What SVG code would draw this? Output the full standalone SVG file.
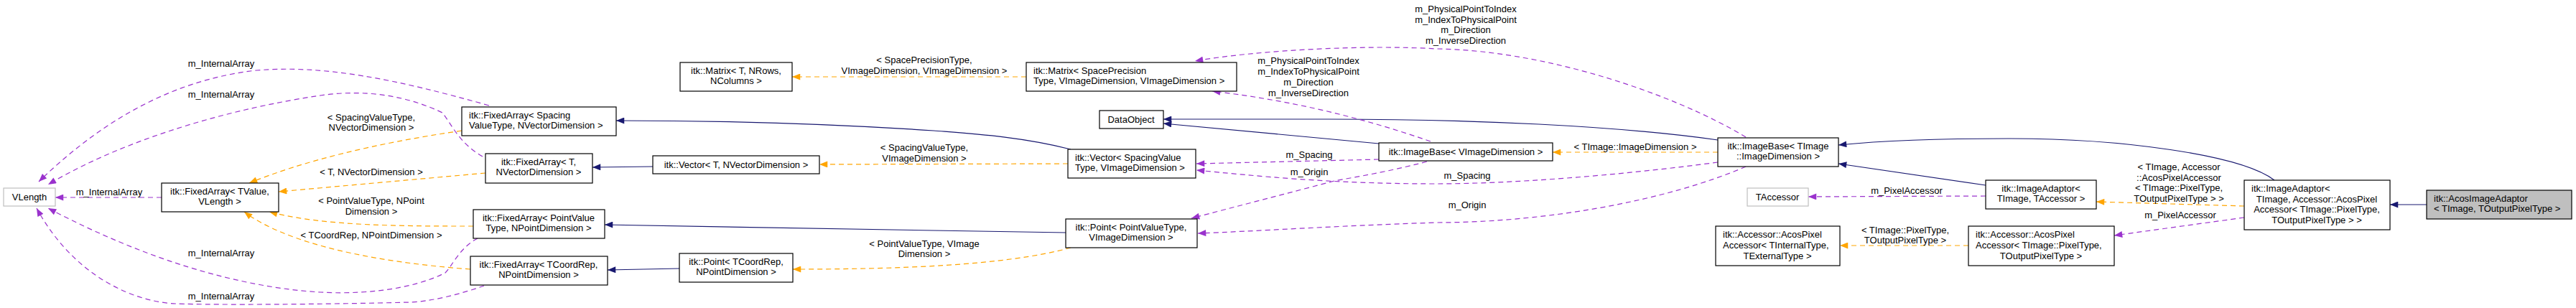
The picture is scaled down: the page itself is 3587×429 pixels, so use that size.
<svg xmlns="http://www.w3.org/2000/svg" width="3587" height="429" viewBox="0 0 3587 429">
<style>
.n rect{fill:#fff;stroke:#000;stroke-width:1.2}
.n.g rect{stroke:#bfbfbf}
.n.s rect{fill:#bfbfbf}
text{font-family:"Liberation Sans",Arial,sans-serif;font-size:13px;fill:#000}
.c{text-anchor:middle}
.inh{fill:none;stroke:#191970;stroke-width:1.2;marker-end:url(#an)}
.tpl{fill:none;stroke:#ffa500;stroke-width:1.2;stroke-dasharray:7,5;marker-end:url(#ao)}
.use{fill:none;stroke:#9a32cd;stroke-width:1.2;stroke-dasharray:7,5;marker-end:url(#ap)}
</style>
<defs>
<marker id="an" viewBox="0 0 10 8" refX="10" refY="4" markerWidth="12" markerHeight="9" orient="auto" markerUnits="userSpaceOnUse"><path d="M0,0L10,4L0,8z" fill="#191970"/></marker>
<marker id="ao" viewBox="0 0 10 8" refX="10" refY="4" markerWidth="12" markerHeight="9" orient="auto" markerUnits="userSpaceOnUse"><path d="M0,0L10,4L0,8z" fill="#ffa500"/></marker>
<marker id="ap" viewBox="0 0 10 8" refX="10" refY="4" markerWidth="12" markerHeight="9" orient="auto" markerUnits="userSpaceOnUse"><path d="M0,0L10,4L0,8z" fill="#9a32cd"/></marker>
</defs>
<rect width="3587" height="429" fill="#fff"/>
<g id="connectors">
<path class="inh" d="M3379,285L3328,285"/>
<path class="inh" d="M3167,251C3120,215 2950,193 2800,193C2700,193 2620,196 2560,202"/>
<path class="inh" d="M2765,258L2560,228"/>
<path class="inh" d="M2392,195C2250,175 2050,166 1850,166L1620,166"/>
<path class="inh" d="M1920,200L1620,172"/>
<path class="inh" d="M1491,208C1420,190 1350,186 1300,182C1150,172 1000,168 858,168"/>
<path class="inh" d="M909,232L825,233"/>
<path class="inh" d="M1484,324L1300,321C1100,318 950,314 842,313"/>
<path class="inh" d="M946,374L846,376"/>
<path class="tpl" d="M643,182C520,200 420,225 347,255"/>
<path class="tpl" d="M676,241L388,267"/>
<path class="tpl" d="M659,315C560,315 450,315 375,295"/>
<path class="tpl" d="M655,375C520,365 400,340 340,295"/>
<path class="tpl" d="M1429,107L1103,107"/>
<path class="tpl" d="M1487,228L1141,229"/>
<path class="tpl" d="M1491,345C1400,370 1250,375 1104,375"/>
<path class="tpl" d="M2392,212L2162,212"/>
<path class="tpl" d="M3125,287L2919,281"/>
<path class="tpl" d="M2741,342L2562,342"/>
<path class="use" d="M681,147C550,110 450,90 357,98C250,110 150,160 54,253"/>
<path class="use" d="M672,218C640,200 630,175 616,157C560,130 500,125 446,133C330,150 180,190 67,257"/>
<path class="use" d="M225,275L77,275"/>
<path class="use" d="M665,332C640,345 630,370 620,380C570,405 500,410 446,407C330,400 200,360 67,290"/>
<path class="use" d="M674,398C640,410 600,420 571,421C450,424 300,425 245,423C180,420 100,380 51,290"/>
<path class="use" d="M2431,191C2330,130 2150,70 2000,68C1900,62 1750,70 1664,85"/>
<path class="use" d="M1992,197C1900,165 1800,140 1688,127"/>
<path class="use" d="M1920,222L1666,228"/>
<path class="use" d="M2392,226C2250,245 2100,256 2000,256C1850,256 1750,245 1666,237"/>
<path class="use" d="M1987,225C1930,240 1890,246 1858,252C1790,270 1720,288 1659,304"/>
<path class="use" d="M2431,232C2320,280 2150,310 2000,310C1850,315 1750,322 1668,325"/>
<path class="use" d="M2765,273L2518,274"/>
<path class="use" d="M3125,303L2944,328"/>
</g>
<g id="labels">
<text x="308" y="93" class="c">m_InternalArray</text>
<text x="308" y="136" class="c">m_InternalArray</text>
<text x="152" y="272" class="c">m_InternalArray</text>
<text x="308" y="357" class="c">m_InternalArray</text>
<text x="308" y="417" class="c">m_InternalArray</text>
<text x="517" y="168" class="c">&lt; SpacingValueType,</text>
<text x="517" y="182" class="c">NVectorDimension &gt;</text>
<text x="517" y="244" class="c">&lt; T, NVectorDimension &gt;</text>
<text x="517" y="284" class="c">&lt; PointValueType, NPoint</text>
<text x="517" y="299" class="c">Dimension &gt;</text>
<text x="517" y="332" class="c">&lt; TCoordRep, NPointDimension &gt;</text>
<text x="1287" y="88" class="c">&lt; SpacePrecisionType,</text>
<text x="1287" y="103" class="c">VImageDimension, VImageDimension &gt;</text>
<text x="1287" y="210" class="c">&lt; SpacingValueType,</text>
<text x="1287" y="225" class="c">VImageDimension &gt;</text>
<text x="1287" y="344" class="c">&lt; PointValueType, VImage</text>
<text x="1287" y="358" class="c">Dimension &gt;</text>
<text x="1822" y="89" class="c">m_PhysicalPointToIndex</text>
<text x="1822" y="104" class="c">m_IndexToPhysicalPoint</text>
<text x="1822" y="119" class="c">m_Direction</text>
<text x="1822" y="134" class="c">m_InverseDirection</text>
<text x="2041" y="17" class="c">m_PhysicalPointToIndex</text>
<text x="2041" y="32" class="c">m_IndexToPhysicalPoint</text>
<text x="2041" y="46" class="c">m_Direction</text>
<text x="2041" y="61" class="c">m_InverseDirection</text>
<text x="1823" y="220" class="c">m_Spacing</text>
<text x="1823" y="244" class="c">m_Origin</text>
<text x="2043" y="249" class="c">m_Spacing</text>
<text x="2043" y="290" class="c">m_Origin</text>
<text x="2277" y="209" class="c">&lt; TImage::ImageDimension &gt;</text>
<text x="2655" y="270" class="c">m_PixelAccessor</text>
<text x="2653" y="325" class="c">&lt; TImage::PixelType,</text>
<text x="2653" y="339" class="c">TOutputPixelType &gt;</text>
<text x="3034" y="237" class="c">&lt; TImage, Accessor</text>
<text x="3034" y="252" class="c">::AcosPixelAccessor</text>
<text x="3034" y="266" class="c">&lt; TImage::PixelType,</text>
<text x="3034" y="281" class="c">TOutputPixelType &gt; &gt;</text>
<text x="3036" y="304" class="c">m_PixelAccessor</text>
</g>
<g id="vlength" class="n g"><rect x="5" y="262" width="72" height="25"/><text x="41" y="279" class="c">VLength</text></g>
<g id="fa_tvalue" class="n"><rect x="225" y="255" width="163" height="40"/><text x="306" y="271" class="c">itk::FixedArray&lt; TValue,</text><text x="306" y="285" class="c">VLength &gt;</text></g>
<g id="matrix_t" class="n"><rect x="947" y="87" width="156" height="40"/><text x="1025" y="103" class="c">itk::Matrix&lt; T, NRows,</text><text x="1025" y="117" class="c">NColumns &gt;</text></g>
<g id="fa_spacing" class="n"><rect x="643" y="149" width="215" height="40"/><text x="653" y="165">itk::FixedArray&lt; Spacing</text><text x="653" y="179">ValueType, NVectorDimension &gt;</text></g>
<g id="fa_t" class="n"><rect x="676" y="214" width="149" height="41"/><text x="750" y="230" class="c">itk::FixedArray&lt; T,</text><text x="750" y="244" class="c">NVectorDimension &gt;</text></g>
<g id="vector_t" class="n"><rect x="909" y="217" width="232" height="25"/><text x="1025" y="234" class="c">itk::Vector&lt; T, NVectorDimension &gt;</text></g>
<g id="fa_point" class="n"><rect x="659" y="292" width="183" height="40"/><text x="750" y="308" class="c">itk::FixedArray&lt; PointValue</text><text x="750" y="322" class="c">Type, NPointDimension &gt;</text></g>
<g id="fa_coord" class="n"><rect x="655" y="357" width="191" height="40"/><text x="750" y="373" class="c">itk::FixedArray&lt; TCoordRep,</text><text x="750" y="387" class="c">NPointDimension &gt;</text></g>
<g id="point_t" class="n"><rect x="946" y="353" width="158" height="40"/><text x="1025" y="369" class="c">itk::Point&lt; TCoordRep,</text><text x="1025" y="383" class="c">NPointDimension &gt;</text></g>
<g id="matrix_sp" class="n"><rect x="1429" y="87" width="293" height="40"/><text x="1439" y="103">itk::Matrix&lt; SpacePrecision</text><text x="1439" y="117">Type, VImageDimension, VImageDimension &gt;</text></g>
<g id="dataobject" class="n"><rect x="1531" y="154" width="89" height="25"/><text x="1575" y="171" class="c">DataObject</text></g>
<g id="vector_sp" class="n"><rect x="1487" y="208" width="178" height="40"/><text x="1497" y="224">itk::Vector&lt; SpacingValue</text><text x="1497" y="238">Type, VImageDimension &gt;</text></g>
<g id="point_pv" class="n"><rect x="1484" y="305" width="183" height="40"/><text x="1575" y="321" class="c">itk::Point&lt; PointValueType,</text><text x="1575" y="335" class="c">VImageDimension &gt;</text></g>
<g id="imagebase_v" class="n"><rect x="1920" y="199" width="242" height="25"/><text x="2041" y="216" class="c">itk::ImageBase&lt; VImageDimension &gt;</text></g>
<g id="imagebase_t" class="n"><rect x="2392" y="192" width="168" height="40"/><text x="2476" y="208" class="c">itk::ImageBase&lt; TImage</text><text x="2476" y="222" class="c">::ImageDimension &gt;</text></g>
<g id="taccessor" class="n g"><rect x="2433" y="262" width="85" height="25"/><text x="2475" y="279" class="c">TAccessor</text></g>
<g id="acospa_t" class="n"><rect x="2389" y="315" width="173" height="55"/><text x="2399" y="331">itk::Accessor::AcosPixel</text><text x="2399" y="346">Accessor&lt; TInternalType,</text><text x="2475" y="361" class="c">TExternalType &gt;</text></g>
<g id="imageadaptor_t" class="n"><rect x="2765" y="251" width="154" height="40"/><text x="2842" y="267" class="c">itk::ImageAdaptor&lt;</text><text x="2842" y="281" class="c">TImage, TAccessor &gt;</text></g>
<g id="acospa_img" class="n"><rect x="2741" y="315" width="203" height="55"/><text x="2751" y="331">itk::Accessor::AcosPixel</text><text x="2751" y="346">Accessor&lt; TImage::PixelType,</text><text x="2842" y="361" class="c">TOutputPixelType &gt;</text></g>
<g id="imageadaptor_acos" class="n"><rect x="3125" y="251" width="203" height="69"/><text x="3135" y="267">itk::ImageAdaptor&lt;</text><text x="3226" y="282" class="c">TImage, Accessor::AcosPixel</text><text x="3226" y="296" class="c">Accessor&lt; TImage::PixelType,</text><text x="3226" y="311" class="c">TOutputPixelType &gt; &gt;</text></g>
<g id="acosimageadaptor" class="n s"><rect x="3379" y="265" width="202" height="40"/><text x="3389" y="281">itk::AcosImageAdaptor</text><text x="3389" y="295">&lt; TImage, TOutputPixelType &gt;</text></g>
</svg>
